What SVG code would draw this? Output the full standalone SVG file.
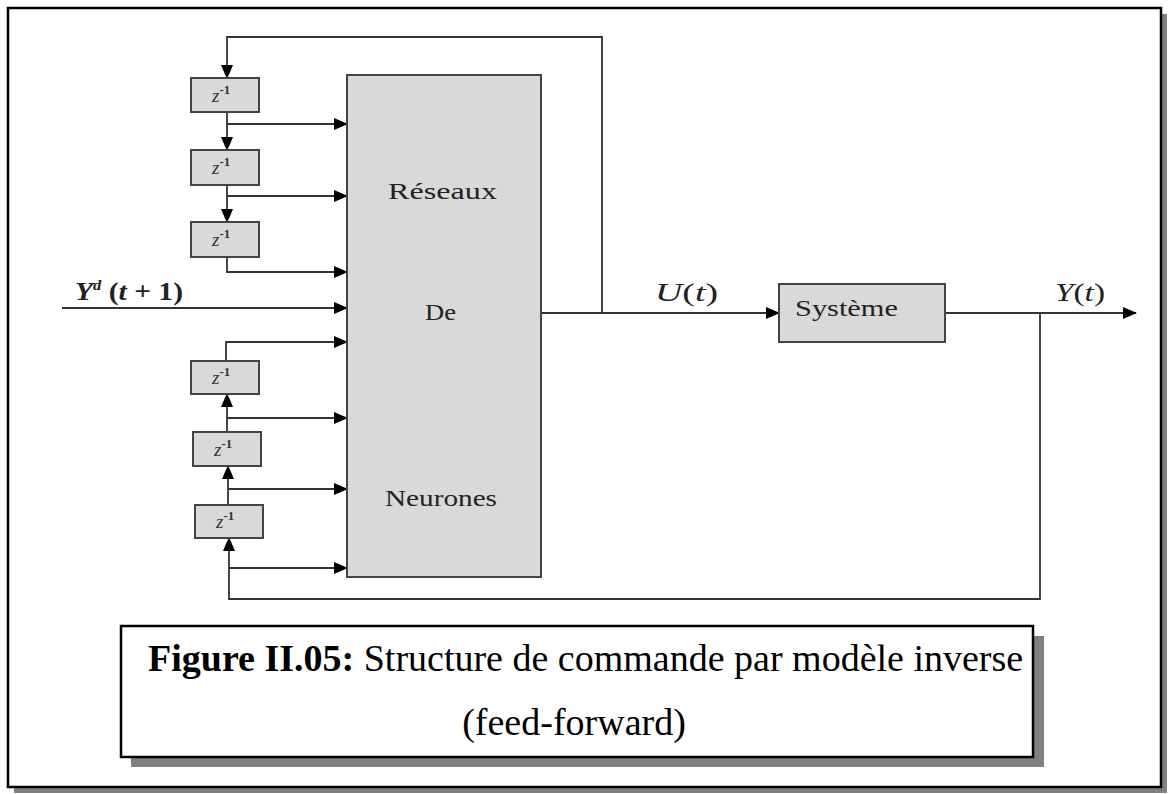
<svg xmlns="http://www.w3.org/2000/svg" width="1170" height="794" viewBox="0 0 1170 794">
<style>
.blk{fill:#d9d9d9;stroke:#444;stroke-width:2}
.ln{fill:none;stroke:#333;stroke-width:1.8}
.zt{font-family:"Liberation Serif",serif;font-style:italic;font-size:19px;fill:#333}
.zs{font-family:"Liberation Serif",serif;font-size:13px;fill:#333;font-weight:bold}
.lbl{font-family:"Liberation Serif",serif;font-size:23px;fill:#222}
.math{font-family:"Liberation Serif",serif;font-style:italic;font-size:25px;fill:#222}
.cap{font-family:"Liberation Serif",serif;font-size:38px;fill:#000}
</style>
<defs>
<marker id="ah" markerWidth="14" markerHeight="12" refX="13" refY="6" orient="auto" markerUnits="userSpaceOnUse">
<path d="M0,0 L14,6 L0,12 Z" fill="#000"/>
</marker>
</defs>
<rect x="0" y="0" width="1170" height="794" fill="#fff"/>
<g id="frame">
<rect x="14" y="14" width="1153" height="779" fill="#808080"/>
<rect x="8" y="8" width="1153" height="779" fill="#fff" stroke="#000" stroke-width="2.5"/>
</g>
<g id="connectors">
<polyline class="ln" points="602,313 602,37 227,37 227,78" marker-end="url(#ah)"/>
<line class="ln" x1="227" y1="112" x2="227" y2="150" marker-end="url(#ah)"/>
<line class="ln" x1="227" y1="185" x2="227" y2="222" marker-end="url(#ah)"/>
<line class="ln" x1="227" y1="124" x2="347" y2="124" marker-end="url(#ah)"/>
<line class="ln" x1="227" y1="196" x2="347" y2="196" marker-end="url(#ah)"/>
<polyline class="ln" points="227,257 227,272 347,272" marker-end="url(#ah)"/>
<line class="ln" x1="62" y1="308" x2="347" y2="308" marker-end="url(#ah)"/>
<polyline class="ln" points="226,361 226,342 347,342" marker-end="url(#ah)"/>
<line class="ln" x1="227" y1="432" x2="227" y2="394" marker-end="url(#ah)"/>
<line class="ln" x1="227" y1="418" x2="347" y2="418" marker-end="url(#ah)"/>
<line class="ln" x1="228" y1="505" x2="228" y2="466" marker-end="url(#ah)"/>
<line class="ln" x1="228" y1="489" x2="347" y2="489" marker-end="url(#ah)"/>
<polyline class="ln" points="1040,313 1040,599 229,599 229,538" marker-end="url(#ah)"/>
<line class="ln" x1="229" y1="568" x2="347" y2="568" marker-end="url(#ah)"/>
<line class="ln" x1="541" y1="313" x2="779" y2="313" marker-end="url(#ah)"/>
<line class="ln" x1="945" y1="313" x2="1136" y2="313" marker-end="url(#ah)"/>
</g>
<g id="nn">
<rect class="blk" x="347" y="75" width="194" height="502"/>
<text class="lbl" x="388" y="199" textLength="109" lengthAdjust="spacingAndGlyphs">Réseaux</text>
<text class="lbl" x="425" y="320" textLength="31" lengthAdjust="spacingAndGlyphs">De</text>
<text class="lbl" x="385" y="506" textLength="112" lengthAdjust="spacingAndGlyphs">Neurones</text>
</g>
<g id="z1"><rect class="blk" x="191" y="78" width="68" height="34"/><text x="212" y="102"><tspan class="zt">z</tspan><tspan class="zs" dy="-8">-1</tspan></text></g>
<g id="z2"><rect class="blk" x="191" y="150" width="68" height="35"/><text x="212" y="174"><tspan class="zt">z</tspan><tspan class="zs" dy="-8">-1</tspan></text></g>
<g id="z3"><rect class="blk" x="191" y="222" width="68" height="35"/><text x="212" y="246"><tspan class="zt">z</tspan><tspan class="zs" dy="-8">-1</tspan></text></g>
<g id="z4"><rect class="blk" x="191" y="361" width="68" height="33"/><text x="212" y="384"><tspan class="zt">z</tspan><tspan class="zs" dy="-8">-1</tspan></text></g>
<g id="z5"><rect class="blk" x="193" y="432" width="68" height="34"/><text x="214" y="456"><tspan class="zt">z</tspan><tspan class="zs" dy="-8">-1</tspan></text></g>
<g id="z6"><rect class="blk" x="195" y="505" width="68" height="33"/><text x="216" y="528"><tspan class="zt">z</tspan><tspan class="zs" dy="-8">-1</tspan></text></g>
<g id="systeme">
<rect class="blk" x="779" y="284" width="166" height="58"/>
<text class="lbl" x="795" y="316" textLength="103" lengthAdjust="spacingAndGlyphs">Système</text>
</g>
<g id="labels">
<text x="75" y="300" class="math" font-weight="bold" textLength="108" lengthAdjust="spacingAndGlyphs">Y<tspan font-size="14" dy="-10">d</tspan><tspan dy="10" font-style="normal"> (</tspan>t<tspan font-style="normal"> + 1)</tspan></text>
<text x="655" y="301" class="math" textLength="63" lengthAdjust="spacingAndGlyphs">U<tspan font-style="normal">(</tspan>t<tspan font-style="normal">)</tspan></text>
<text x="1055" y="301" class="math" textLength="50" lengthAdjust="spacingAndGlyphs">Y<tspan font-style="normal">(</tspan>t<tspan font-style="normal">)</tspan></text>
</g>
<g id="caption">
<rect x="131" y="636" width="913" height="131" fill="#808080"/>
<rect x="121" y="626" width="912" height="131" fill="#fff" stroke="#000" stroke-width="2.5"/>
<text class="cap" x="148" y="671"><tspan font-weight="bold">Figure II.05:</tspan> Structure de commande par modèle inverse</text>
<text class="cap" x="574" y="735" text-anchor="middle" font-size="35">(feed-forward)</text>
</g>
</svg>
